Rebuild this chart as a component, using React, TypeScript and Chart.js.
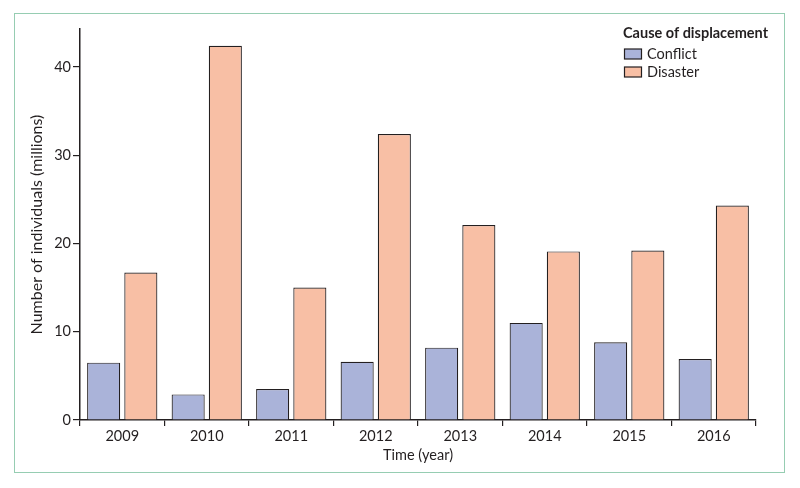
import React, { useEffect, useRef } from "react";
import { Chart, registerables } from "chart.js";

Chart.register(...registerables);

const years = ["2009", "2010", "2011", "2012", "2013", "2014", "2015", "2016"];
const conflict = [6.5, 2.9, 3.5, 6.6, 8.2, 11.0, 8.8, 6.9];
const disaster = [16.7, 42.4, 15.0, 32.4, 22.1, 19.1, 19.2, 24.3];
const seriesNames = ["Conflict", "Disaster"];
const legendTitle = "Cause of displacement";
const yTitle = "Number of individuals (millions)";
const xTitle = "Time (year)";

const FONT = "Lato, 'Open Sans', sans-serif";
const INK = "#231f20";

const legendPlugin = {
  id: "customLegend",
  afterDraw(chart: any) {
    const ctx = chart.ctx;
    ctx.save();
    ctx.fillStyle = INK;
    ctx.textBaseline = "middle";
    ctx.textAlign = "left";
    ctx.font = `bold 14.5px ${FONT}`;
    ctx.fillText(legendTitle, 623, 33);
    ctx.font = `14.5px ${FONT}`;
    chart.data.datasets.forEach((ds: any, i: number) => {
      const y = 54 + i * 18;
      ctx.fillStyle = ds.backgroundColor;
      ctx.fillRect(624.5, y - 5, 17, 10);
      ctx.strokeStyle = INK;
      ctx.lineWidth = 1.2;
      ctx.strokeRect(624.5, y - 5, 17, 10);
      ctx.fillStyle = INK;
      ctx.fillText(ds.label, 647, y + 0.5);
    });
    ctx.restore();
  },
};

export default function App() {
  const ref = useRef<HTMLCanvasElement>(null);
  useEffect(() => {
    document.body.style.margin = "0";
    const chart = new Chart(ref.current!, {
      type: "bar",
      data: {
        labels: years,
        datasets: [
          {
            label: seriesNames[0],
            data: conflict,
            backgroundColor: "#aab3d9",
            borderColor: INK,
            borderWidth: 1.2,
            categoryPercentage: 0.88,
            barPercentage: 0.89,
          },
          {
            label: seriesNames[1],
            data: disaster,
            backgroundColor: "#f8bfa5",
            borderColor: INK,
            borderWidth: 1.2,
            categoryPercentage: 0.88,
            barPercentage: 0.89,
          },
        ],
      },
      options: {
        animation: false,
        responsive: false,
        maintainAspectRatio: false,
        layout: { padding: { left: 27, top: 29, right: 44, bottom: 24 } },
        plugins: {
          legend: { display: false },
          tooltip: { enabled: false },
        },
        scales: {
          x: {
            grid: {
              display: true,
              offset: true,
              drawOnChartArea: false,
              drawTicks: true,
              tickLength: 6,
              color: INK,
              lineWidth: 1.2,
            },
            border: { display: true, color: INK, width: 1.5 },
            ticks: { color: INK, font: { family: FONT, size: 14.5 }, padding: 2, maxRotation: 0 },
            title: {
              display: true,
              text: xTitle,
              color: INK,
              font: { family: FONT, size: 14.5 },
              padding: { top: 2, bottom: 0 },
            },
            afterFit(scale: any) {
              scale.height = 44;
            },
          },
          y: {
            min: 0,
            max: 44.3,
            grid: {
              display: true,
              drawOnChartArea: false,
              drawTicks: true,
              tickLength: 7,
              color: INK,
              lineWidth: 1.2,
            },
            border: { display: true, color: INK, width: 1.5 },
            ticks: {
              stepSize: 10,
              includeBounds: false,
              color: INK,
              font: { family: FONT, size: 14.5 },
              padding: 2,
            },
            title: {
              display: true,
              text: yTitle,
              color: INK,
              font: { family: FONT, size: 16 },
              padding: { top: 0, bottom: 4 },
            },
            afterFit(scale: any) {
              scale.width = 53;
            },
          },
        },
      },
      plugins: [legendPlugin],
    });
    return () => chart.destroy();
  }, []);
  return (
    <div style={{ position: "relative", width: 800, height: 488, background: "#fff" }}>
      <canvas ref={ref} width={800} height={488} style={{ position: "absolute", left: 0, top: 0 }} />
      <div
        style={{
          position: "absolute",
          left: 14,
          top: 13,
          width: 771,
          height: 460,
          border: "1.5px solid #96cdb2",
          boxSizing: "border-box",
          pointerEvents: "none",
        }}
      />
    </div>
  );
}
